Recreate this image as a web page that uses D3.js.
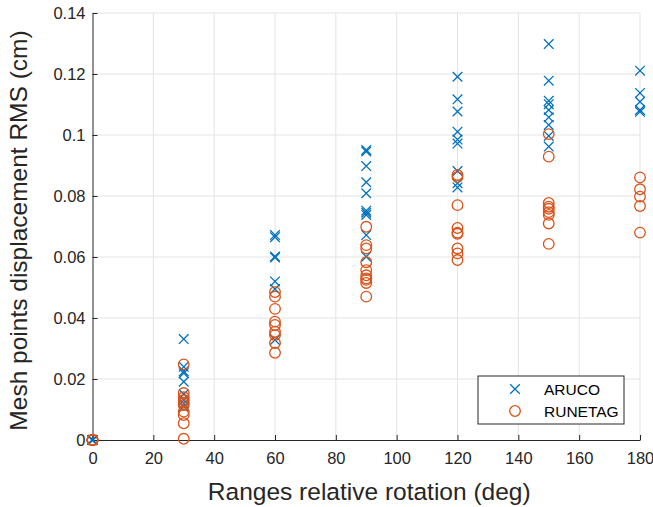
<!DOCTYPE html>
<html>
<head>
<meta charset="utf-8">
<script src="https://cdn.jsdelivr.net/npm/d3@7"></script>
<style>
  body { margin: 0; background: #fff; }
  svg { font-family: "Liberation Sans", Arial, sans-serif; }
</style>
</head>
<body>
<svg width="653" height="507"></svg>
<script>
// rotation angles (deg) tested
const angles = [0, 30, 60, 90, 120, 150, 180];

// ARUCO displacement RMS (cm) per angle
const aruco = [
  [0, 0, 0, 0, 0, 0],
  [0.0331, 0.024, 0.0225, 0.0219, 0.0191, 0.015, 0.013, 0.012, 0.011],
  [0.0672, 0.0665, 0.0602, 0.0598, 0.052, 0.0495, 0.0328],
  [0.0951, 0.0946, 0.0898, 0.0845, 0.0809, 0.0752, 0.0745, 0.0738, 0.0672, 0.0601],
  [0.1191, 0.1117, 0.1077, 0.1011, 0.0985, 0.0972, 0.0882, 0.0842, 0.0828],
  [0.1298, 0.1178, 0.1112, 0.1101, 0.1082, 0.1058, 0.1033, 0.0997, 0.0962],
  [0.1211, 0.1138, 0.1109, 0.1082, 0.1076]
];

// RUNETAG displacement RMS (cm) per angle
const runetag = [
  [0, 0, 0, 0, 0, 0],
  [0.0248, 0.0154, 0.014, 0.0131, 0.0122, 0.0115, 0.0093, 0.0082, 0.0055, 0.0004],
  [0.0485, 0.047, 0.043, 0.0388, 0.0377, 0.0355, 0.0344, 0.0318, 0.0286],
  [0.0699, 0.0639, 0.0628, 0.0583, 0.0557, 0.054, 0.053, 0.0525, 0.0515, 0.047],
  [0.0869, 0.0862, 0.077, 0.0695, 0.068, 0.0676, 0.0628, 0.0612, 0.059],
  [0.1003, 0.0929, 0.0777, 0.0765, 0.0758, 0.0747, 0.0738, 0.071, 0.0643],
  [0.0861, 0.0822, 0.0798, 0.0767, 0.068]
];

const xTicks = [0, 20, 40, 60, 80, 100, 120, 140, 160, 180];
const yTicks = [0, 0.02, 0.04, 0.06, 0.08, 0.1, 0.12, 0.14];
const seriesNames = ["ARUCO", "RUNETAG"];
const seriesColors = ["#0072BD", "#D95319"];

const svg = d3.select("svg");
const margin = {top: 13, right: 13, bottom: 67, left: 92.5};
const width = 653 - margin.left - margin.right;
const height = 507 - margin.top - margin.bottom;

const g = svg.append("g")
  .attr("transform", "translate(" + margin.left + "," + margin.top + ")");

const xScale = d3.scaleLinear().domain([0, 180]).range([0, width]);
const yScale = d3.scaleLinear().domain([0, 0.14]).range([height, 0]);

// grid
g.append("g")
  .selectAll("line")
  .data(xTicks.slice(1))
  .enter().append("line")
  .attr("x1", d => xScale(d)).attr("x2", d => xScale(d))
  .attr("y1", 0).attr("y2", height)
  .attr("stroke", "#e3e3e3").attr("stroke-width", 1);
g.append("g")
  .selectAll("line")
  .data(yTicks.slice(1))
  .enter().append("line")
  .attr("x1", 0).attr("x2", width)
  .attr("y1", d => yScale(d)).attr("y2", d => yScale(d))
  .attr("stroke", "#e3e3e3").attr("stroke-width", 1);

// axes (ticks pointing inward like matlab)
const xAxis = g.append("g")
  .attr("transform", "translate(0," + height + ")")
  .call(d3.axisBottom(xScale).tickValues(xTicks).tickSizeInner(-5).tickSizeOuter(0).tickPadding(12));
const yAxis = g.append("g")
  .call(d3.axisLeft(yScale).tickValues(yTicks).tickSizeInner(-5).tickSizeOuter(0).tickPadding(7)
    .tickFormat(d => d3.format("~g")(d)));

[xAxis, yAxis].forEach(a => {
  a.select(".domain").attr("stroke", "#262626");
  a.selectAll(".tick line").attr("stroke", "#262626");
  a.selectAll("text").attr("fill", "#262626").style("font-size", "16.5px")
    .style("font-family", "Liberation Sans, Arial, sans-serif");
});

// flatten data for drawing
const arucoPts = [];
const runePts = [];
angles.forEach((a, i) => {
  aruco[i].forEach(v => arucoPts.push([a, v]));
  runetag[i].forEach(v => runePts.push([a, v]));
});

const s = 4.8;
g.append("g").selectAll("path")
  .data(arucoPts)
  .enter().append("path")
  .attr("transform", d => "translate(" + xScale(d[0]) + "," + yScale(d[1]) + ")")
  .attr("d", "M" + (-s) + "," + (-s) + "L" + s + "," + s + "M" + (-s) + "," + s + "L" + s + "," + (-s))
  .attr("stroke", seriesColors[0]).attr("stroke-width", 1.3).attr("fill", "none");

g.append("g").selectAll("circle")
  .data(runePts)
  .enter().append("circle")
  .attr("cx", d => xScale(d[0]))
  .attr("cy", d => yScale(d[1]))
  .attr("r", 5.3)
  .attr("stroke", seriesColors[1]).attr("stroke-width", 1.3).attr("fill", "none");

// axis titles
svg.append("text")
  .attr("x", margin.left + width / 2 + 3)
  .attr("y", 500)
  .attr("text-anchor", "middle")
  .style("font-size", "24.5px")
  .attr("fill", "#262626")
  .text("Ranges relative rotation (deg)");

svg.append("text")
  .attr("transform", "translate(27," + (margin.top + height / 2 + 4) + ") rotate(-90)")
  .attr("text-anchor", "middle")
  .style("font-size", "24.5px")
  .attr("fill", "#262626")
  .text("Mesh points displacement RMS (cm)");

// legend
const legend = svg.append("g").attr("transform", "translate(478,376)");
legend.append("rect")
  .attr("width", 146).attr("height", 48)
  .attr("fill", "#fff").attr("stroke", "#262626").attr("stroke-width", 1);
seriesNames.forEach((name, i) => {
  const row = legend.append("g").attr("transform", "translate(37," + (13 + i * 22) + ")");
  if (i === 0) {
    row.append("path")
      .attr("d", "M" + (-s) + "," + (-s) + "L" + s + "," + s + "M" + (-s) + "," + s + "L" + s + "," + (-s))
      .attr("stroke", seriesColors[0]).attr("stroke-width", 1.3);
  } else {
    row.append("circle").attr("r", 5.3)
      .attr("stroke", seriesColors[1]).attr("stroke-width", 1.3).attr("fill", "none");
  }
  row.append("text")
    .attr("x", 29).attr("y", 5.5)
    .style("font-size", "15.5px")
    .attr("fill", "#000")
    .text(name);
});
</script>
</body>
</html>
